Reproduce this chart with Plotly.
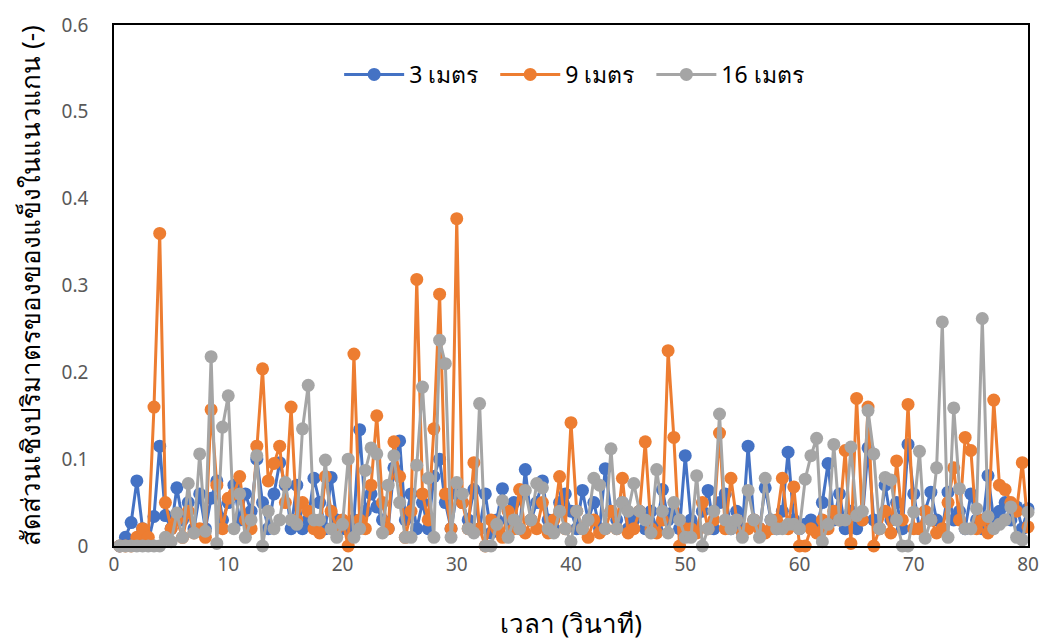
import plotly.graph_objects as go

# time axis: samples every 0.5 s from 0.5 s to 80 s
time_s = [round(0.5 * (i + 1), 1) for i in range(160)]

# solid volume fraction along the axis, sampled at three heights
frac_3m = [
    0.0, 0.01, 0.027, 0.075, 0.02, 0.005, 0.034, 0.115, 0.035, 0.02, 0.067, 0.03, 0.05, 0.02, 0.06, 0.02, 0.055, 0.075, 0.03, 0.05,
    0.07, 0.03, 0.06, 0.04, 0.1, 0.05, 0.02, 0.06, 0.096, 0.07, 0.02, 0.07, 0.02, 0.03, 0.078, 0.05, 0.02, 0.079, 0.03, 0.02,
    0.02, 0.03, 0.134, 0.04, 0.06, 0.045, 0.03, 0.02, 0.09, 0.121, 0.03, 0.06, 0.02, 0.05, 0.02, 0.08, 0.1, 0.05, 0.02, 0.06,
    0.05, 0.03, 0.065, 0.02, 0.06, 0.015, 0.03, 0.066, 0.03, 0.05, 0.02, 0.088, 0.03, 0.05, 0.075, 0.03, 0.02, 0.05, 0.06, 0.04,
    0.02, 0.064, 0.03, 0.05, 0.02, 0.089, 0.04, 0.03, 0.05, 0.02, 0.03, 0.04, 0.02, 0.04, 0.02, 0.065, 0.03, 0.04, 0.02, 0.104,
    0.03, 0.02, 0.04, 0.064, 0.02, 0.05, 0.06, 0.02, 0.04, 0.02, 0.115, 0.03, 0.02, 0.067, 0.03, 0.02, 0.04, 0.108, 0.03, 0.02,
    0.025, 0.03, 0.02, 0.05, 0.095, 0.03, 0.06, 0.02, 0.04, 0.02, 0.03, 0.113, 0.03, 0.02, 0.07, 0.03, 0.05, 0.02, 0.117, 0.06,
    0.02, 0.04, 0.062, 0.03, 0.02, 0.062, 0.03, 0.04, 0.02, 0.06, 0.03, 0.02, 0.081, 0.03, 0.04, 0.05, 0.03, 0.045, 0.02, 0.043,
]

frac_9m = [
    0.0, 0.0, 0.0, 0.01, 0.02, 0.01, 0.16, 0.36, 0.05, 0.02, 0.03, 0.01, 0.04, 0.015, 0.02, 0.01, 0.157, 0.07, 0.02, 0.055,
    0.06, 0.08, 0.03, 0.02, 0.115, 0.204, 0.075, 0.095, 0.115, 0.05, 0.16, 0.03, 0.05, 0.04, 0.02, 0.015, 0.08, 0.04, 0.02, 0.03,
    0.0, 0.221, 0.03, 0.02, 0.07, 0.15, 0.05, 0.02, 0.12, 0.08, 0.01, 0.04, 0.307, 0.06, 0.03, 0.135, 0.29, 0.06, 0.02, 0.377,
    0.05, 0.02, 0.096, 0.02, 0.0, 0.03, 0.02, 0.01, 0.04, 0.02, 0.065, 0.015, 0.03, 0.02, 0.05, 0.015, 0.03, 0.08, 0.02, 0.142,
    0.04, 0.02, 0.01, 0.03, 0.015, 0.02, 0.04, 0.02, 0.078, 0.015, 0.02, 0.04, 0.12, 0.02, 0.015, 0.03, 0.225, 0.125, 0.0, 0.02,
    0.02, 0.015, 0.05, 0.02, 0.03, 0.13, 0.02, 0.078, 0.03, 0.015, 0.02, 0.03, 0.02, 0.015, 0.02, 0.03, 0.078, 0.02, 0.068, 0.0,
    0.0, 0.02, 0.015, 0.03, 0.02, 0.04, 0.03, 0.11, 0.003, 0.17, 0.03, 0.16, 0.0, 0.02, 0.04, 0.015, 0.098, 0.03, 0.163, 0.02,
    0.02, 0.04, 0.03, 0.015, 0.02, 0.05, 0.09, 0.03, 0.125, 0.11, 0.02, 0.03, 0.015, 0.168, 0.07, 0.065, 0.05, 0.04, 0.096, 0.022,
]

frac_16m = [
    0.0, 0.0, 0.0, 0.0, 0.0, 0.0, 0.0, 0.0, 0.01, 0.005, 0.038, 0.01, 0.072, 0.015, 0.106, 0.017, 0.218, 0.003, 0.137, 0.173,
    0.02, 0.06, 0.01, 0.03, 0.104, 0.0, 0.04, 0.02, 0.03, 0.073, 0.03, 0.025, 0.135, 0.185, 0.03, 0.03, 0.099, 0.02, 0.01, 0.025,
    0.1, 0.01, 0.02, 0.087, 0.113, 0.106, 0.015, 0.07, 0.104, 0.05, 0.01, 0.01, 0.093, 0.183, 0.078, 0.01, 0.237, 0.21, 0.01, 0.073,
    0.06, 0.02, 0.015, 0.164, 0.0, 0.0, 0.025, 0.052, 0.01, 0.03, 0.02, 0.064, 0.03, 0.072, 0.067, 0.02, 0.015, 0.04, 0.02, 0.005,
    0.04, 0.02, 0.03, 0.078, 0.07, 0.02, 0.112, 0.02, 0.05, 0.04, 0.072, 0.04, 0.03, 0.015, 0.088, 0.04, 0.015, 0.05, 0.03, 0.01,
    0.01, 0.081, 0.0, 0.02, 0.04, 0.152, 0.03, 0.02, 0.03, 0.01, 0.064, 0.03, 0.01, 0.078, 0.03, 0.02, 0.02, 0.025, 0.025, 0.02,
    0.077, 0.104, 0.124, 0.005, 0.025, 0.117, 0.03, 0.03, 0.114, 0.035, 0.04, 0.156, 0.106, 0.02, 0.079, 0.076, 0.03, 0.0, 0.0, 0.039,
    0.109, 0.009, 0.03, 0.09, 0.258, 0.01, 0.159, 0.066, 0.02, 0.02, 0.043, 0.262, 0.034, 0.02, 0.025, 0.03, 0.045, 0.01, 0.007, 0.039,
]

series = [
    ("3 เมตร", frac_3m, "#4472C4"),
    ("9 เมตร", frac_9m, "#ED7D31"),
    ("16 เมตร", frac_16m, "#A5A5A5"),
]

FONT = "Noto Sans, DejaVu Sans, sans-serif"
LEGEND_PAD = "\u00a0\u00a0"

fig = go.Figure()
for name, values, color in series:
    fig.add_trace(go.Scatter(
        x=time_s, y=values, name=name + LEGEND_PAD, mode="lines+markers",
        line=dict(color=color, width=3),
        marker=dict(color=color, size=13),
        cliponaxis=False,
    ))

fig.update_layout(
    width=1044, height=641,
    margin=dict(l=114, r=16, t=19, b=95),
    paper_bgcolor="white", plot_bgcolor="white",
    font=dict(family=FONT, color="#595959", size=19),
    showlegend=True,
    legend=dict(
        orientation="h", x=0.51, xanchor="center", y=0.905, yanchor="middle",
        font=dict(size=23, color="#000000"), bgcolor="rgba(0,0,0,0)",
        itemwidth=60,
    ),
    xaxis=dict(
        range=[0, 80], tickvals=[0, 10, 20, 30, 40, 50, 60, 70, 80],
        showgrid=False, zeroline=False, ticks="", automargin=False,
        showline=True, linecolor="#000000", linewidth=1.5, mirror=True,
        title=dict(text="เวลา (วินาที)", font=dict(size=26, color="#000000"), standoff=40),
    ),
    yaxis=dict(
        range=[0, 0.6], tickvals=[0, 0.1, 0.2, 0.3, 0.4, 0.5, 0.6],
        ticktext=["0", "0.1", "0.2", "0.3", "0.4", "0.5", "0.6"],
        showgrid=False, zeroline=False, ticks="", ticklabelstandoff=20,
        showline=True, linecolor="#000000", linewidth=1.5, mirror=True,
        title=dict(text="สัดส่วนเชิงปริมาตรของของแข็งในแนวแกน (-)",
                   font=dict(size=26, color="#000000"), standoff=14),
    ),
)

fig.write_html("out.html")
